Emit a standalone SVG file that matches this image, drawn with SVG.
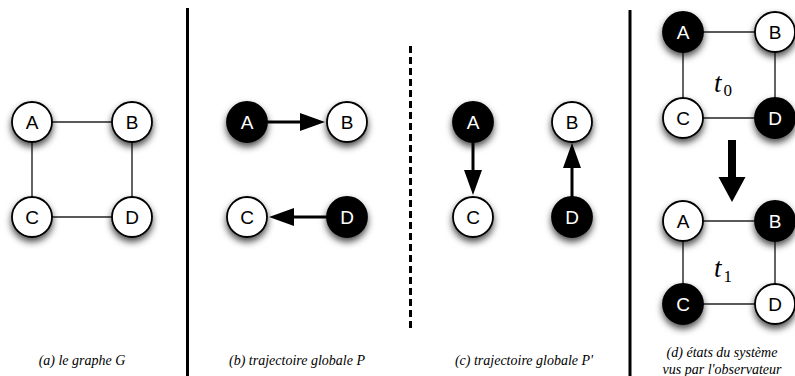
<svg xmlns="http://www.w3.org/2000/svg" width="795" height="376" viewBox="0 0 795 376">
<defs>
<filter id="sh" x="-60%" y="-60%" width="220%" height="240%">
<feDropShadow dx="0" dy="4" stdDeviation="3.5" flood-color="#000" flood-opacity="0.7"/>
</filter>
</defs>
<style>
.w{fill:#fff;stroke:#000;stroke-width:1.8}
.b{fill:#000;stroke:#000;stroke-width:1.8}
.lw{font-family:"Liberation Sans",Arial,sans-serif;font-size:19px;text-anchor:middle;fill:#000}
.lb{font-family:"Liberation Sans",Arial,sans-serif;font-size:19px;text-anchor:middle;fill:#fff}
.e{stroke:#222;stroke-width:1.4;fill:none}
.a{stroke:#000;stroke-width:3;fill:none}
.cap{font-family:"Liberation Serif","Times New Roman",serif;font-style:italic;font-size:14px;text-anchor:middle;fill:#000}
.t{font-family:"Liberation Serif","Times New Roman",serif;fill:#000}
</style>
<rect width="795" height="376" fill="#fff"/>
<g id="separators">
<line x1="187.5" y1="8" x2="187.5" y2="376" stroke="#000" stroke-width="3"/>
<line x1="410.5" y1="46" x2="410.5" y2="330" stroke="#000" stroke-width="3" stroke-dasharray="7,4"/>
<line x1="630" y1="10" x2="630" y2="376" stroke="#000" stroke-width="3"/>
</g>
<g id="connectors">
<line class="e" x1="32" y1="122" x2="132" y2="122"/>
<line class="e" x1="32" y1="122" x2="32" y2="217"/>
<line class="e" x1="132" y1="122" x2="132" y2="217"/>
<line class="e" x1="32" y1="217" x2="132" y2="217"/>
<line class="a" x1="265" y1="122" x2="302" y2="122"/>
<polygon points="300,113 325,122 300,131" fill="#000"/>
<line class="a" x1="329" y1="217" x2="292" y2="217"/>
<polygon points="294,208 269,217 294,226" fill="#000"/>
<line class="a" x1="473" y1="140" x2="473" y2="172"/>
<polygon points="464,170 473,195 482,170" fill="#000"/>
<line class="a" x1="572" y1="199" x2="572" y2="166"/>
<polygon points="563,168 572,143 581,168" fill="#000"/>
<line class="e" x1="683" y1="32" x2="775" y2="32"/>
<line class="e" x1="683" y1="32" x2="683" y2="118"/>
<line class="e" x1="775" y1="32" x2="775" y2="118"/>
<line class="e" x1="683" y1="118" x2="775" y2="118"/>
<polygon points="728,140 736,140 736,177 745.5,177 732,202 718.5,177 728,177" fill="#000"/>
<line class="e" x1="683" y1="221" x2="775" y2="221"/>
<line class="e" x1="683" y1="221" x2="683" y2="304"/>
<line class="e" x1="775" y1="221" x2="775" y2="304"/>
<line class="e" x1="683" y1="304" x2="775" y2="304"/>
</g>
<g id="a-A"><circle class="w" cx="32" cy="122" r="20" filter="url(#sh)"/><text class="lw" x="32" y="129">A</text></g>
<g id="a-B"><circle class="w" cx="132" cy="122" r="20" filter="url(#sh)"/><text class="lw" x="132" y="129">B</text></g>
<g id="a-C"><circle class="w" cx="32" cy="217" r="20" filter="url(#sh)"/><text class="lw" x="32" y="224">C</text></g>
<g id="a-D"><circle class="w" cx="132" cy="217" r="20" filter="url(#sh)"/><text class="lw" x="132" y="224">D</text></g>
<g id="b-A"><circle class="b" cx="247" cy="122" r="20" filter="url(#sh)"/><text class="lb" x="247" y="129">A</text></g>
<g id="b-B"><circle class="w" cx="347" cy="122" r="20" filter="url(#sh)"/><text class="lw" x="347" y="129">B</text></g>
<g id="b-C"><circle class="w" cx="247" cy="217" r="20" filter="url(#sh)"/><text class="lw" x="247" y="224">C</text></g>
<g id="b-D"><circle class="b" cx="347" cy="217" r="20" filter="url(#sh)"/><text class="lb" x="347" y="224">D</text></g>
<g id="c-A"><circle class="b" cx="473" cy="122" r="20" filter="url(#sh)"/><text class="lb" x="473" y="129">A</text></g>
<g id="c-B"><circle class="w" cx="572" cy="122" r="20" filter="url(#sh)"/><text class="lw" x="572" y="129">B</text></g>
<g id="c-C"><circle class="w" cx="473" cy="217" r="20" filter="url(#sh)"/><text class="lw" x="473" y="224">C</text></g>
<g id="c-D"><circle class="b" cx="572" cy="217" r="20" filter="url(#sh)"/><text class="lb" x="572" y="224">D</text></g>
<g id="d0-A"><circle class="b" cx="683" cy="32" r="20" filter="url(#sh)"/><text class="lb" x="683" y="39">A</text></g>
<g id="d0-B"><circle class="w" cx="775" cy="32" r="20" filter="url(#sh)"/><text class="lw" x="775" y="39">B</text></g>
<g id="d0-C"><circle class="w" cx="683" cy="118" r="20" filter="url(#sh)"/><text class="lw" x="683" y="125">C</text></g>
<g id="d0-D"><circle class="b" cx="775" cy="118" r="20" filter="url(#sh)"/><text class="lb" x="775" y="125">D</text></g>
<g id="d0-label"><text class="t" x="714" y="92" font-size="27" font-style="italic">t</text><text class="t" x="723.5" y="96" font-size="17">0</text></g>
<g id="d1-A"><circle class="w" cx="683" cy="221" r="20" filter="url(#sh)"/><text class="lw" x="683" y="228">A</text></g>
<g id="d1-B"><circle class="b" cx="775" cy="221" r="20" filter="url(#sh)"/><text class="lb" x="775" y="228">B</text></g>
<g id="d1-C"><circle class="b" cx="683" cy="304" r="20" filter="url(#sh)"/><text class="lb" x="683" y="311">C</text></g>
<g id="d1-D"><circle class="w" cx="775" cy="304" r="20" filter="url(#sh)"/><text class="lw" x="775" y="311">D</text></g>
<g id="d1-label"><text class="t" x="714" y="277" font-size="27" font-style="italic">t</text><text class="t" x="723.5" y="282" font-size="17">1</text></g>
<g id="captions">
<text class="cap" x="82" y="365">(a) le graphe G</text>
<text class="cap" x="297" y="365">(b) trajectoire globale P</text>
<text class="cap" x="524" y="365">(c) trajectoire globale P'</text>
<text class="cap" x="722" y="357">(d) états du système</text>
<text class="cap" x="722" y="374">vus par l'observateur</text>
</g>
</svg>
